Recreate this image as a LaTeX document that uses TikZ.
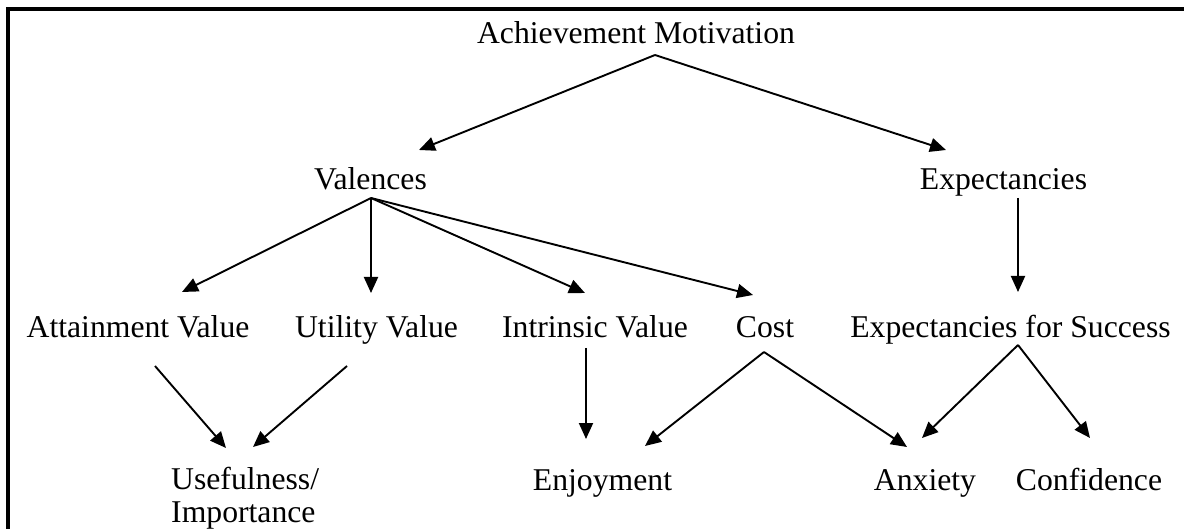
\documentclass[tikz,border=0pt]{standalone}
\usepackage{fontspec}
\setmainfont{Liberation Serif}
\usetikzlibrary{arrows.meta}
\begin{document}
\begin{tikzpicture}[x=1pt,y=-1pt,
  lbl/.style={inner sep=0pt,anchor=base,font=\fontsize{31.7}{32.5}\selectfont},
  arr/.style={line width=1.9pt,-{Triangle[length=16pt,width=14pt]}},
  frame/.style={line width=4pt}]
\useasboundingbox (0,0) rectangle (1184,529);
\fill[white] (0,0) rectangle (1184,529);
% frame
\coordinate (f1) at (8,529);
\coordinate (f2) at (8,9);
\coordinate (f3) at (1184,9);
\draw[frame] (f1) -- (f2) -- (f3);
% labels
\node[lbl] (am) at (636,44) {Achievement Motivation};
\node[lbl] (val) at (370.5,190) {Valences};
\node[lbl] (exp) at (1003.5,190) {Expectancies};
\node[lbl] (att) at (138,338) {Attainment Value};
\node[lbl] (uti) at (376.5,338) {Utility Value};
\node[lbl] (intr) at (595,338) {Intrinsic Value};
\node[lbl] (cost) at (765,338) {Cost};
\node[lbl] (efs) at (1010.5,338) {Expectancies for Success};
\node[lbl,anchor=base west,align=left] (use) at (171,522) {Usefulness/\\Importance};
\node[lbl] (enj) at (602.5,490) {Enjoyment};
\node[lbl] (anx) at (925,490) {Anxiety};
\node[lbl] (conf) at (1089,490) {Confidence};
% connector end points
\coordinate (amo) at (655,55);
\coordinate (vali) at (419,150);
\coordinate (expi) at (946,150);
\coordinate (valo) at (371,198);
\coordinate (atti) at (182,292);
\coordinate (utii) at (371,293);
\coordinate (intri) at (585,293);
\coordinate (costi) at (753,295);
\coordinate (expo) at (1018,198);
\coordinate (efsi) at (1018,292);
\coordinate (atto) at (155,366);
\coordinate (utio) at (347,366);
\coordinate (usei1) at (226,448);
\coordinate (usei2) at (253,447);
\coordinate (intro) at (586,348);
\coordinate (enji1) at (586,439);
\coordinate (costo) at (764,352);
\coordinate (enji2) at (645,446);
\coordinate (anxi1) at (907,447);
\coordinate (efso) at (1018,345);
\coordinate (anxi2) at (922,438);
\coordinate (confi) at (1090,438);
% connectors
\draw[arr] (amo) -- (vali);
\draw[arr] (amo) -- (expi);
\draw[arr] (valo) -- (atti);
\draw[arr] (valo) -- (utii);
\draw[arr] (valo) -- (intri);
\draw[arr] (valo) -- (costi);
\draw[arr] (expo) -- (efsi);
\draw[arr] (atto) -- (usei1);
\draw[arr] (utio) -- (usei2);
\draw[arr] (intro) -- (enji1);
\draw[arr] (costo) -- (enji2);
\draw[arr] (costo) -- (anxi1);
\draw[arr] (efso) -- (anxi2);
\draw[arr] (efso) -- (confi);
\end{tikzpicture}
\end{document}
